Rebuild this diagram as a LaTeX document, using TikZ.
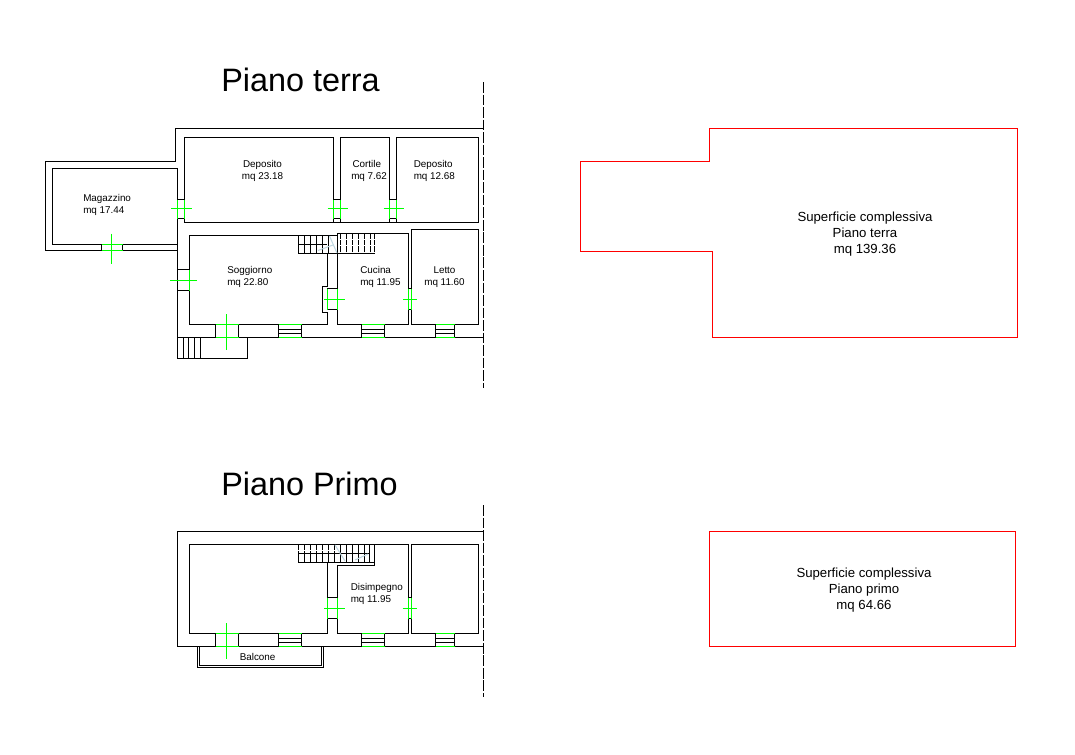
\documentclass[tikz,border=0pt]{standalone}
\usepackage{fontspec}
\setmainfont{Liberation Sans}
\definecolor{cadgreen}{RGB}{0,255,0}
\definecolor{cadred}{RGB}{255,0,0}
\definecolor{faint}{RGB}{190,215,225}
\tikzset{
  wall/.style={draw=black,line width=0.85pt,line cap=rect},
  greenline/.style={draw=cadgreen,line width=0.85pt},
  outline/.style={draw=cadred,line width=0.75pt},
  cutline/.style={draw=black,line width=0.85pt,dash pattern=on 8pt off 1.4pt},
  risertop/.style={draw=black,line width=0.85pt,dash pattern=on 4pt off 0.8pt},
  faintline/.style={draw=faint,line width=0.75pt},
  title/.style={font=\fontsize{24.3pt}{28pt}\selectfont,inner sep=0pt,anchor=base west},
  room/.style={font=\fontsize{7.4pt}{9pt}\selectfont,inner sep=0pt,align=left,anchor=north west},
  area/.style={font=\fontsize{9.9pt}{11.8pt}\selectfont,inner sep=0pt,align=center},
}
\begin{document}
\begin{tikzpicture}[x=0.75pt,y=-0.75pt]
\useasboundingbox (0,0) rectangle (1075,754);
\fill[white] (0,0) rectangle (1075,754);
% ---------- Ground floor walls
\draw[wall] (175.5,161.5) -- (175.5,128.5) -- (483.5,128.5);
\draw[wall] (175.5,161.5) -- (45.5,161.5) -- (45.5,250.5) -- (101.5,250.5);
\draw[wall] (122.5,250.5) -- (177.5,250.5);
\draw[wall] (177.5,199.5) -- (177.5,168.5) -- (52.5,168.5) -- (52.5,244.5) -- (101.5,244.5);
\draw[wall] (122.5,244.5) -- (177.5,244.5);
\draw[wall] (101.5,244.5) -- (101.5,250.5) (122.5,244.5) -- (122.5,250.5);
\draw[wall] (177.5,218.5) -- (177.5,358.5) -- (247.5,358.5) -- (247.5,337.5);
\draw[wall] (177.5,199.5) -- (184.5,199.5) (177.5,218.5) -- (184.5,218.5);
\draw[wall] (184.5,199.5) -- (184.5,137.5) -- (333.5,137.5) -- (333.5,199.5);
\draw[wall] (184.5,218.5) -- (184.5,222.5) -- (478.5,222.5) -- (478.5,137.5) -- (396.5,137.5) -- (396.5,199.5);
\draw[wall] (340.5,199.5) -- (340.5,137.5) -- (389.5,137.5) -- (389.5,199.5);
\draw[wall] (333.5,199.5) -- (340.5,199.5) (333.5,218.5) -- (340.5,218.5);
\draw[wall] (389.5,199.5) -- (396.5,199.5) (389.5,218.5) -- (396.5,218.5);
\draw[wall] (333.5,218.5) -- (333.5,222.5) (340.5,218.5) -- (340.5,222.5);
\draw[wall] (389.5,218.5) -- (389.5,222.5) (396.5,218.5) -- (396.5,222.5);
% Soggiorno
\draw[wall] (189.5,269.5) -- (189.5,235.5) -- (337.5,235.5);
\draw[wall] (189.5,290.5) -- (189.5,324.5) -- (215.5,324.5);
\draw[wall] (177.5,269.5) -- (189.5,269.5) (177.5,290.5) -- (189.5,290.5);
\draw[wall] (238.5,324.5) -- (278.5,324.5) (301.5,324.5) -- (327.5,324.5) -- (327.5,312.5) -- (322.5,312.5) -- (322.5,286.5) -- (327.5,286.5) -- (327.5,253.5);
\draw[wall] (327.5,288.5) -- (337.5,288.5) (327.5,309.5) -- (337.5,309.5);
% Cucina
\draw[wall] (337.5,288.5) -- (337.5,233.5) -- (408.5,233.5) -- (408.5,288.5);
\draw[wall] (337.5,309.5) -- (337.5,324.5) -- (361.5,324.5) (384.5,324.5) -- (408.5,324.5) -- (408.5,309.5);
% Letto
\draw[wall] (411.5,288.5) -- (411.5,229.5) -- (478.5,229.5) -- (478.5,324.5) -- (454.5,324.5) (435.5,324.5) -- (411.5,324.5) -- (411.5,309.5);
\draw[wall] (408.5,288.5) -- (411.5,288.5) (408.5,309.5) -- (411.5,309.5);
% outer south wall
\draw[wall] (177.5,337.5) -- (215.5,337.5) (238.5,337.5) -- (278.5,337.5) (301.5,337.5) -- (361.5,337.5) (384.5,337.5) -- (435.5,337.5) (454.5,337.5) -- (483.5,337.5);
\foreach \xx in {215.5,238.5,278.5,301.5,361.5,384.5,435.5,454.5}{\draw[wall] (\xx,324.5) -- (\xx,337.5);}
\foreach \xa/\xb in {278.5/301.5,361.5/384.5,435.5/454.5}{
  \draw[wall] (\xa,329.5) -- (\xb,329.5) (\xa,333.5) -- (\xb,333.5);
}
% entrance steps
\foreach \xx in {183.5,188.5,194.5,200.5}{\draw[wall] (\xx,337.5) -- (\xx,358.5);}
% Stairs ground floor
\draw[wall] (298.5,235.5) -- (298.5,253.5) -- (374.5,253.5);
\draw[wall] (298.5,244.5) -- (326.5,244.5);
\foreach \xx in {304.5,310.5,316.5,322.5,328.5}{\draw[wall] (\xx,235.5) -- (\xx,253.5);}
\foreach \xx in {340.5,346.5,352.5,358.5,364.5,370.5,374.5}{\draw[risertop] (\xx,233.5) -- (\xx,253.5);}
\draw[faintline] (318,250.5) -- (333,245);
\draw[faintline] (329.5,236) -- (337,253);
% ---------- Green: ground floor
\draw[greenline] (177.5,199.5) -- (177.5,218.5) (184.5,199.5) -- (184.5,218.5) (171,208.5) -- (191.5,208.5);
\draw[greenline] (333.5,199.5) -- (333.5,218.5) (340.5,199.5) -- (340.5,218.5) (327.5,208.5) -- (347.5,208.5);
\draw[greenline] (389.5,199.5) -- (389.5,218.5) (396.5,199.5) -- (396.5,218.5) (383.5,208.5) -- (403.5,208.5);
\draw[greenline] (101.5,244.5) -- (122.5,244.5) (101.5,250.5) -- (122.5,250.5) (111.5,233.5) -- (111.5,264);
\draw[greenline] (189.5,269.5) -- (189.5,290.5) (170,280.5) -- (196.5,280.5);
\draw[greenline] (215.5,324.5) -- (238.5,324.5) (215.5,337.5) -- (238.5,337.5) (226.5,314) -- (226.5,349.5);
\foreach \xa/\xb in {278.5/301.5,361.5/384.5,435.5/454.5}{
  \draw[greenline] (\xa,324.5) -- (\xb,324.5) (\xa,337.5) -- (\xb,337.5);
}
\draw[greenline] (327.5,288.5) -- (327.5,309.5) (337.5,288.5) -- (337.5,309.5) (324,299.5) -- (345,299.5);
\draw[greenline] (408.5,288.5) -- (408.5,309.5) (411.5,288.5) -- (411.5,309.5) (403,299.5) -- (417,299.5);
% ---------- First floor walls
\draw[wall] (483.5,531.5) -- (177.5,531.5) -- (177.5,646.5) -- (215.5,646.5);
\draw[wall] (238.5,646.5) -- (278.5,646.5) (301.5,646.5) -- (361.5,646.5) (384.5,646.5) -- (435.5,646.5) (454.5,646.5) -- (483.5,646.5);
\draw[wall] (215.5,633.5) -- (189.5,633.5) -- (189.5,544.5) -- (408.5,544.5) -- (408.5,597.5);
\draw[wall] (238.5,633.5) -- (278.5,633.5) (301.5,633.5) -- (327.5,633.5) -- (327.5,618.5);
\draw[wall] (327.5,597.5) -- (327.5,562.5);
\draw[wall] (337.5,597.5) -- (337.5,565.5) -- (374.5,565.5) -- (374.5,544.5);
\draw[wall] (337.5,618.5) -- (337.5,633.5) -- (361.5,633.5) (384.5,633.5) -- (408.5,633.5) -- (408.5,618.5);
\draw[wall] (411.5,597.5) -- (411.5,544.5) -- (478.5,544.5) -- (478.5,633.5) -- (454.5,633.5) (435.5,633.5) -- (411.5,633.5) -- (411.5,618.5);
\draw[wall] (327.5,597.5) -- (337.5,597.5) (327.5,618.5) -- (337.5,618.5);
\draw[wall] (408.5,597.5) -- (411.5,597.5) (408.5,618.5) -- (411.5,618.5);
\foreach \xx in {215.5,238.5,278.5,301.5,361.5,384.5,435.5,454.5}{\draw[wall] (\xx,633.5) -- (\xx,646.5);}
\foreach \xa/\xb in {278.5/301.5,361.5/384.5,435.5/454.5}{
  \draw[wall] (\xa,638.5) -- (\xb,638.5) (\xa,642.5) -- (\xb,642.5);
}
% Stairs first floor
\draw[wall] (298.5,553.5) -- (298.5,562.5) -- (374.5,562.5);
\draw[wall] (298.5,553.5) -- (369.5,553.5);
\draw[risertop] (298.5,544.5) -- (298.5,553.5);
\foreach \xx in {304.5,310.5,316.5,322.5,328.5,334.5}{
  \draw[wall] (\xx,553.5) -- (\xx,562.5);
  \draw[risertop] (\xx,544.5) -- (\xx,553.5);
}
\foreach \xx in {340.5,346.5,352.5,358.5,364.5,369.5}{
  \draw[wall] (\xx,544.5) -- (\xx,562.5);
}
\draw[faintline] (335,545) -- (345,561);
\draw[faintline] (355,560) -- (368,554);
% Balcone
\draw[wall] (197.5,646.5) -- (197.5,667.5) -- (323.5,667.5) -- (323.5,646.5);
\draw[wall] (199.5,646.5) -- (199.5,665.5) -- (321.5,665.5) -- (321.5,646.5);
% ---------- Green: first floor
\draw[greenline] (215.5,633.5) -- (238.5,633.5) (215.5,646.5) -- (238.5,646.5) (226.5,623) -- (226.5,658.5);
\foreach \xa/\xb in {278.5/301.5,361.5/384.5,435.5/454.5}{
  \draw[greenline] (\xa,633.5) -- (\xb,633.5) (\xa,646.5) -- (\xb,646.5);
}
\draw[greenline] (327.5,597.5) -- (327.5,618.5) (337.5,597.5) -- (337.5,618.5) (324,608.5) -- (345,608.5);
\draw[greenline] (408.5,597.5) -- (408.5,618.5) (411.5,597.5) -- (411.5,618.5) (402.5,608.5) -- (416.5,608.5);
% ---------- Cut lines
\draw[cutline] (483.5,82) -- (483.5,388);
\draw[cutline] (483.5,505) -- (483.5,697);
% ---------- Red outlines
\draw[outline] (709.5,128.5) -- (1017.5,128.5) -- (1017.5,337.5) -- (712.5,337.5) -- (712.5,251.5) -- (580.5,251.5) -- (580.5,161.5) -- (709.5,161.5) -- cycle;
\draw[outline] (709.5,531.5) rectangle (1015.5,646.5);
% ---------- Text
\node[title] (t1) at (221,91) {Piano terra};
\node[title] (t2) at (221,495) {Piano Primo};
\node[room] (r1) at (83,194) {Magazzino\\mq 17.44};
\node[room,align=center,anchor=north] (r2) at (262.5,160.5) {Deposito\\mq 23.18};
\node[room,align=left] (r3) at (351,160.5) {\hspace{1pt}Cortile\\mq 7.62};
\node[room,align=left] (r4) at (413.5,160.5) {Deposito\\mq 12.68};
\node[room] (r5) at (227,266.5) {Soggiorno\\mq 22.80};
\node[room] (r6) at (360,266.5) {Cucina\\mq 11.95};
\node[room,align=center,anchor=north] (r7) at (444.5,266.5) {Letto\\mq 11.60};
\node[room] (r8) at (350.5,583.5) {Disimpegno\\mq 11.95};
\node[room,anchor=north west] (r9) at (239.5,653.5) {Balcone};
\node[area] (a1) at (865,234) {Superficie complessiva\\Piano terra\\mq 139.36};
\node[area] (a2) at (864,590) {Superficie complessiva\\Piano primo\\mq 64.66};
\end{tikzpicture}
\end{document}
